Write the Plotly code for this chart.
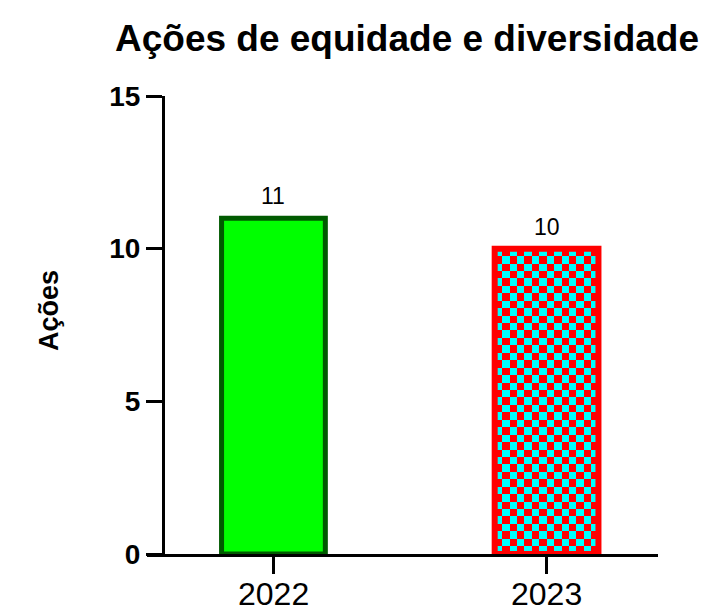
import plotly.graph_objects as go

# Data
categories = ["2022", "2023"]
acoes = [11, 10]
y_ticks = [0, 5, 10, 15]

FONT = "Liberation Sans, Arial, Helvetica, sans-serif"

W, H = 705, 611
L, R, T, B = 147, 47, 96, 57
plot_w = W - L - R
plot_h = H - T - B

x_range = [-0.463, 1.408]
y_range = [0, 15]
bar_width = 0.38

# checkerboard cell size (px) converted to data units
cell_px = 7.5
dx0 = cell_px * (x_range[1] - x_range[0]) / plot_w
dy0 = cell_px * (y_range[1] - y_range[0]) / plot_h

xpos = list(range(len(categories)))

fig = go.Figure()

# checkerboard fill for the 2023 bar, fitted exactly inside the bar
i2 = 1
x_left = xpos[i2] - bar_width / 2
n_cols = max(1, round(bar_width / dx0))
dx = bar_width / n_cols
n_rows = max(1, round(acoes[i2] / dy0))
dy = acoes[i2] / n_rows
z = [[(r + c) % 2 for c in range(n_cols)] for r in range(n_rows)]
fig.add_trace(go.Heatmap(
    z=z,
    x0=x_left + dx / 2, dx=dx,
    y0=dy / 2, dy=dy,
    colorscale=[[0, "#00FFFF"], [0.5, "#00FFFF"], [0.5, "#FF0000"], [1, "#FF0000"]],
    zmin=0, zmax=1, showscale=False, hoverinfo="skip",
))

fig.add_trace(go.Bar(
    x=[xpos[0]], y=[acoes[0]], width=bar_width,
    marker=dict(color="#00FF00", line=dict(color="#005A00", width=5)),
    showlegend=False,
))
fig.add_trace(go.Bar(
    x=[xpos[1]], y=[acoes[1]], width=bar_width,
    marker=dict(color="rgba(0,0,0,0)", line=dict(color="#FF0000", width=6)),
    showlegend=False,
))

# value labels above the bars
for xi, v in zip(xpos, acoes):
    fig.add_annotation(
        x=xi, y=v, text=str(v), showarrow=False,
        yanchor="bottom", yshift=7,
        font=dict(family=FONT, size=23, color="black"),
    )

# category labels under the x ticks
for xi, c in zip(xpos, categories):
    fig.add_annotation(
        x=xi, xref="x", y=0, yref="paper", text=c, showarrow=False,
        yanchor="middle", yshift=-40,
        font=dict(family=FONT, size=32, color="black"),
    )

fig.add_annotation(
    xref="paper", yref="paper",
    x=(49 - L) / plot_w, y=(H - B - 311) / plot_h,
    text="<b>Ações</b>", textangle=-90, showarrow=False,
    xanchor="center", yanchor="middle",
    font=dict(family=FONT, size=27, color="black"),
)

fig.update_layout(
    width=W, height=H,
    margin=dict(l=L, r=R, t=T, b=B, autoexpand=False),
    paper_bgcolor="white", plot_bgcolor="white",
    barmode="overlay",
    title=dict(
        text="<b>Ações de equidade e diversidade</b>",
        x=407 / W, xanchor="center", y=(H - 38) / H, yanchor="middle",
        font=dict(family=FONT, size=37, color="black"),
    ),
    xaxis=dict(
        range=x_range, tickvals=xpos, showticklabels=False,
        showline=True, linecolor="black", linewidth=3,
        ticks="outside", ticklen=17, tickwidth=3, tickcolor="black",
        showgrid=False, zeroline=False, automargin=False,
    ),
    yaxis=dict(
        range=y_range, tickvals=y_ticks,
        ticktext=[f"<b>{t}</b>" for t in y_ticks],
        anchor="free", position=16 / plot_w,
        showline=True, linecolor="black", linewidth=3,
        ticks="outside", ticklen=16, tickwidth=3, tickcolor="black",
        showgrid=False, zeroline=False, automargin=False,
        tickfont=dict(family=FONT, size=28, color="black"),
    ),
)

fig.write_html("out.html")
